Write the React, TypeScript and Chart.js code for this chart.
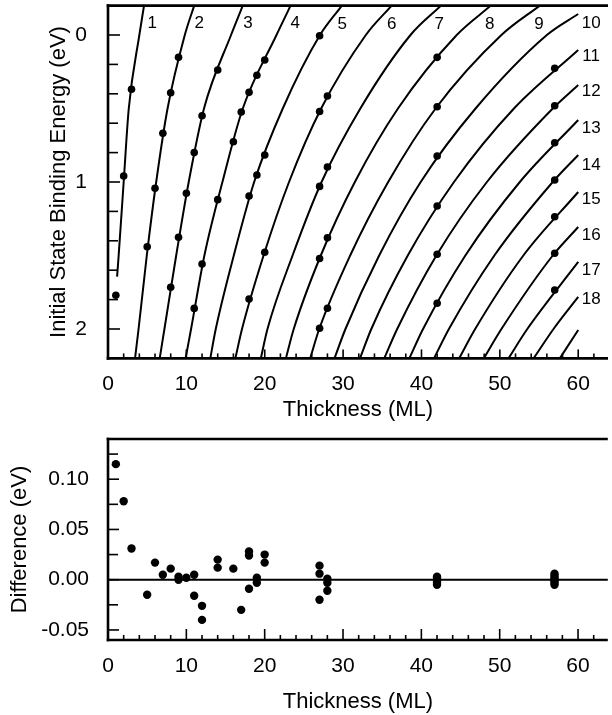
import React, { useEffect, useRef } from 'react';
import { Chart, registerables } from 'chart.js';

Chart.register(...registerables);

const FONT = '"Liberation Sans", Arial, Helvetica, sans-serif';

// ---------------- data ----------------
// binding-energy levels (eV) at which the curve thicknesses were read
const energyLevels = [-0.2, 0, 0.5, 1.0, 1.5, 2.0, 2.2];

// thickness (ML) of each model curve (1..19) at the energy levels above
const curveThickness: (number | null)[][] = [
  [4.6, 4.0, 2.65, 2.0, 1.36, null, null],
  [11.0, 9.8, 7.6, 6.15, 4.95, 3.9, 3.45],
  [17.2, 15.7, 12.25, 10.3, 8.7, 7.2, 6.6],
  [23.3, 21.5, 17.2, 14.6, 12.3, 10.6, 9.9],
  [29.85, 27.05, 22.3, 18.65, 16.05, 13.75, 13.05],
  [36.2, 32.9, 27.2, 23.1, 19.85, 17.1, 16.25],
  [42.5, 38.6, 32.2, 27.25, 23.55, 20.35, 19.5],
  [48.85, 44.5, 37.0, 31.5, 27.15, 23.7, 22.7],
  [55.1, 50.2, 41.8, 35.75, 30.9, 26.95, 25.8],
  [null, 56.0, 46.9, 39.9, 34.6, 30.3, 28.9],
  [null, null, 51.8, 44.15, 38.25, 33.6, 32.15],
  [null, null, 56.75, 48.35, 41.9, 36.9, 35.25],
  [null, null, null, 52.55, 45.6, 40.2, 38.45],
  [null, null, null, 56.75, 49.3, 43.5, 41.6],
  [null, null, null, null, 53.0, 46.85, 44.8],
  [null, null, null, null, 56.75, 50.2, 47.95],
  [null, null, null, null, null, 53.5, 51.1],
  [null, null, null, null, null, 56.85, 54.3],
  [null, null, null, null, null, null, 57.65],
];
// where curves stop inside the frame
const curveEndThickness: (number | null)[] = [1.16, null, null, null, null, null, null, null, null, 60, 60, 60, 60, 60, 60, 60, 60, 60, 60];
const curveEndEnergy: (number | null)[] = [1.644, null, null, null, null, null, null, null, null, -0.143, 0.102, 0.34, 0.578, 0.816, 1.068, 1.306, 1.544, 1.782, 2.007];

// measured states (thickness ML, binding energy eV)
const dotThickness = [1, 2, 3, 5, 6, 7, 8, 9, 8, 9, 10, 11, 12, 14, 11, 12, 14, 16, 17, 18, 19, 20, 18, 19, 20, 27, 18, 20, 27, 28, 27, 28, 27, 28, 42, 27, 28, 42, 42, 42, 42, 42, 57, 57, 57, 57, 57, 57, 57];
const dotEnergy = [1.77, 0.959, 0.369, 1.44, 1.043, 0.669, 0.393, 0.152, 1.716, 1.376, 1.077, 0.8, 0.549, 0.238, 1.86, 1.558, 1.12, 0.726, 0.524, 0.39, 0.274, 0.17, 1.095, 0.952, 0.816, 0.005, 1.796, 1.478, 0.52, 0.415, 1.03, 0.898, 1.52, 1.38, 0.152, 1.995, 1.859, 0.488, 0.823, 1.163, 1.492, 1.825, 0.227, 0.481, 0.733, 0.986, 1.236, 1.485, 1.735];

// difference plot
const diffThickness = [1, 2, 3, 5, 6, 7, 8, 9, 9, 10, 11, 11, 12, 12, 14, 14, 16, 17, 18, 18, 18, 19, 19, 20, 20, 27, 27, 27, 28, 28, 28, 42, 42, 42, 42, 42, 42, 57, 57, 57, 57, 57, 57, 57];
const diffValue = [0.115, 0.078, 0.031, -0.015, 0.017, 0.005, 0.011, 0.003, 0.0, 0.002, 0.005, -0.016, -0.026, -0.04, 0.02, 0.012, 0.011, -0.03, 0.028, 0.024, -0.009, 0.002, -0.003, 0.025, 0.017, 0.014, 0.006, -0.02, 0.001, -0.003, -0.011, 0.003, 0.002, 0.0, -0.001, -0.003, -0.005, 0.006, 0.004, 0.002, 0.0, -0.001, -0.003, -0.005];

// ticks
const xMajorTicks = [0, 10, 20, 30, 40, 50, 60];
const xMinorTicks = [2, 4, 6, 8, 12, 14, 16, 18, 22, 24, 26, 28, 32, 34, 36, 38, 42, 44, 46, 48, 52, 54, 56, 58, 62];
const topYMajorTicks = [0, 1, 2];
const topYMinorTicks = [0.2, 0.4, 0.6, 0.8, 1.2, 1.4, 1.6, 1.8];
const bottomYMajorTicks = [-0.05, 0, 0.05, 0.1];
const bottomYMinorTicks = [-0.025, 0.025, 0.075, 0.125];

// curve labels
const curveLabelText = ['1', '2', '3', '4', '5', '6', '7', '8', '9', '10', '11', '12', '13', '14', '15', '16', '17', '18'];
const curveLabelX = [5.65, 11.65, 17.85, 23.9, 29.9, 36.2, 42.25, 48.7, 55.0, 61.65, 61.65, 61.65, 61.65, 61.65, 61.65, 61.65, 61.65, 61.65];
const curveLabelE = [-0.08, -0.08, -0.08, -0.08, -0.075, -0.075, -0.075, -0.075, -0.075, -0.082, 0.148, 0.386, 0.635, 0.884, 1.12, 1.36, 1.6, 1.8];

// ---------------- helpers ----------------
type FrameCfg = {
  xMajor: number[]; xMinor: number[]; yMajor: number[]; yMinor: number[];
  xMajorLen: number; xMinorLen: number; yMajorLen: number; yMinorLen: number;
  zeroLine?: boolean;
  labels?: { text: string[]; x: number[]; y: number[] };
};

function framePlugin(cfg: FrameCfg) {
  return {
    id: 'frame',
    beforeDatasetsDraw(chart: any) {
      if (!cfg.zeroLine) return;
      const { ctx, chartArea } = chart;
      const p = chart.scales.y.getPixelForValue(0);
      ctx.save();
      ctx.strokeStyle = '#000';
      ctx.lineWidth = 2;
      ctx.beginPath();
      ctx.moveTo(chartArea.left, p);
      ctx.lineTo(chartArea.right, p);
      ctx.stroke();
      ctx.restore();
    },
    afterDraw(chart: any) {
      const { ctx, chartArea } = chart;
      const { left, right, top, bottom } = chartArea;
      const xs = chart.scales.x;
      const ys = chart.scales.y;
      ctx.save();
      ctx.strokeStyle = '#000';
      ctx.lineWidth = 1.6;
      const vt = (v: number, len: number) => {
        const p = xs.getPixelForValue(v);
        ctx.beginPath(); ctx.moveTo(p, bottom); ctx.lineTo(p, bottom - len); ctx.stroke();
      };
      const ht = (v: number, len: number) => {
        const p = ys.getPixelForValue(v);
        ctx.beginPath(); ctx.moveTo(left, p); ctx.lineTo(left + len, p); ctx.stroke();
      };
      cfg.xMajor.forEach((v) => vt(v, cfg.xMajorLen));
      cfg.xMinor.forEach((v) => vt(v, cfg.xMinorLen));
      cfg.yMajor.forEach((v) => ht(v, cfg.yMajorLen));
      cfg.yMinor.forEach((v) => ht(v, cfg.yMinorLen));

      ctx.lineWidth = 2.6;
      ctx.beginPath(); ctx.moveTo(left - 1.3, top); ctx.lineTo(right, top); ctx.stroke();
      ctx.beginPath(); ctx.moveTo(left, top - 1.3); ctx.lineTo(left, bottom + 1.3); ctx.stroke();
      ctx.beginPath(); ctx.moveTo(left - 1.3, bottom); ctx.lineTo(right, bottom); ctx.stroke();

      if (cfg.labels) {
        ctx.fillStyle = '#000';
        ctx.font = `17px ${FONT}`;
        ctx.textAlign = 'center';
        ctx.textBaseline = 'middle';
        cfg.labels.text.forEach((t, i) => {
          ctx.fillText(t, xs.getPixelForValue(cfg.labels!.x[i]), ys.getPixelForValue(cfg.labels!.y[i]));
        });
      }
      ctx.restore();
    },
  };
}

function curveDatasets() {
  return curveThickness.map((row, ci) => {
    const pts: { x: number; y: number }[] = [];
    row.forEach((t, i) => {
      if (t !== null) pts.push({ x: t, y: energyLevels[i] });
    });
    const et = curveEndThickness[ci];
    const ee = curveEndEnergy[ci];
    if (et !== null && ee !== null) pts.push({ x: et, y: ee });
    pts.sort((a, b) => a.x - b.x);
    return {
      label: `curve ${ci + 1}`,
      data: pts,
      showLine: true,
      borderColor: '#000',
      borderWidth: 2,
      pointRadius: 0,
      cubicInterpolationMode: 'monotone' as const,
      fill: false,
    };
  });
}

const tickFont = { family: FONT, size: 21 };
const titleFont = { family: FONT, size: 22 };

const fitX = (h: number) => (s: any) => { s.height = h; s.paddingLeft = 0; s.paddingRight = 0; s.paddingTop = 0; s.paddingBottom = 0; };
const fitY = (w: number) => (s: any) => { s.width = w; s.paddingLeft = 0; s.paddingRight = 0; s.paddingTop = 0; s.paddingBottom = 0; };

function TopChart() {
  const ref = useRef<HTMLCanvasElement>(null);
  useEffect(() => {
    const dots = dotThickness.map((t, i) => ({ x: t, y: dotEnergy[i] }));
    const chart = new Chart(ref.current!, {
      type: 'scatter',
      data: {
        datasets: [
          ...curveDatasets(),
          {
            label: 'measured',
            data: dots,
            showLine: false,
            pointRadius: 3.8,
            pointBackgroundColor: '#000',
            pointBorderWidth: 0,
          },
        ] as any,
      },
      options: {
        responsive: false,
        animation: false,
        layout: { padding: { top: 5.6, left: 0, right: 0, bottom: 0 } },
        plugins: { legend: { display: false }, tooltip: { enabled: false } },
        scales: {
          x: {
            type: 'linear',
            min: 0,
            max: 63.8,
            grid: { display: false },
            border: { display: false },
            afterBuildTicks: (s: any) => { s.ticks = xMajorTicks.map((v) => ({ value: v })); },
            afterFit: fitX(71.6),
            ticks: { font: tickFont, color: '#000', padding: 5.5, maxRotation: 0, autoSkip: false, callback: (v: any) => String(v) },
            title: { display: true, text: 'Thickness (ML)', font: titleFont, color: '#000', padding: { top: 0, bottom: 6.6 } },
          },
          y: {
            type: 'linear',
            reverse: true,
            min: -0.2,
            max: 2.2,
            grid: { display: false },
            border: { display: false },
            afterBuildTicks: (s: any) => { s.ticks = topYMajorTicks.map((v) => ({ value: v })); },
            afterFit: fitY(108),
            ticks: { font: tickFont, color: '#000', padding: 13, autoSkip: false, callback: (v: any) => String(v) },
            title: { display: true, text: 'Initial State Binding Energy (eV)', font: titleFont, color: '#000', padding: { top: 45.8, bottom: 0 } },
          },
        },
      } as any,
      plugins: [
        framePlugin({
          xMajor: xMajorTicks, xMinor: xMinorTicks, yMajor: topYMajorTicks, yMinor: topYMinorTicks,
          xMajorLen: 9, xMinorLen: 5, yMajorLen: 12, yMinorLen: 10,
          labels: { text: curveLabelText, x: curveLabelX, y: curveLabelE },
        }),
      ],
    });
    return () => chart.destroy();
  }, []);
  return <canvas ref={ref} width={612} height={430} style={{ position: 'absolute', left: 0, top: 0 }} />;
}

function BottomChart() {
  const ref = useRef<HTMLCanvasElement>(null);
  useEffect(() => {
    const pts = diffThickness.map((t, i) => ({ x: t, y: diffValue[i] }));
    const chart = new Chart(ref.current!, {
      type: 'scatter',
      data: {
        datasets: [
          {
            label: 'difference',
            data: pts,
            pointRadius: 4.2,
            pointBackgroundColor: '#000',
            pointBorderWidth: 0,
          },
        ],
      },
      options: {
        responsive: false,
        animation: false,
        layout: { padding: { top: 9, left: 0, right: 0, bottom: 0 } },
        plugins: { legend: { display: false }, tooltip: { enabled: false } },
        scales: {
          x: {
            type: 'linear',
            min: 0,
            max: 63.8,
            grid: { display: false },
            border: { display: false },
            afterBuildTicks: (s: any) => { s.ticks = xMajorTicks.map((v) => ({ value: v })); },
            afterFit: fitX(75),
            ticks: { font: tickFont, color: '#000', padding: 5.5, maxRotation: 0, autoSkip: false, callback: (v: any) => String(v) },
            title: { display: true, text: 'Thickness (ML)', font: titleFont, color: '#000', padding: { top: 0, bottom: 0 } },
          },
          y: {
            type: 'linear',
            min: -0.06,
            max: 0.14,
            grid: { display: false },
            border: { display: false },
            afterBuildTicks: (s: any) => { s.ticks = bottomYMajorTicks.map((v) => ({ value: v })); },
            afterFit: fitY(108),
            ticks: { font: tickFont, color: '#000', padding: 11, autoSkip: false, callback: (v: any) => Number(v).toFixed(2) },
            title: { display: true, text: 'Difference (eV)', font: titleFont, color: '#000', padding: { top: 6.8, bottom: 0 } },
          },
        },
      } as any,
      plugins: [
        framePlugin({
          xMajor: xMajorTicks, xMinor: xMinorTicks, yMajor: bottomYMajorTicks, yMinor: bottomYMinorTicks,
          xMajorLen: 11, xMinorLen: 5, yMajorLen: 11, yMinorLen: 10,
          zeroLine: true,
        }),
      ],
    });
    return () => chart.destroy();
  }, []);
  return <canvas ref={ref} width={612} height={285} style={{ position: 'absolute', left: 0, top: 430 }} />;
}

export default function App() {
  return (
    <div style={{ position: 'absolute', left: 0, top: 0, width: 612, height: 715, background: '#fff', overflow: 'hidden' }}>
      <TopChart />
      <BottomChart />
    </div>
  );
}
